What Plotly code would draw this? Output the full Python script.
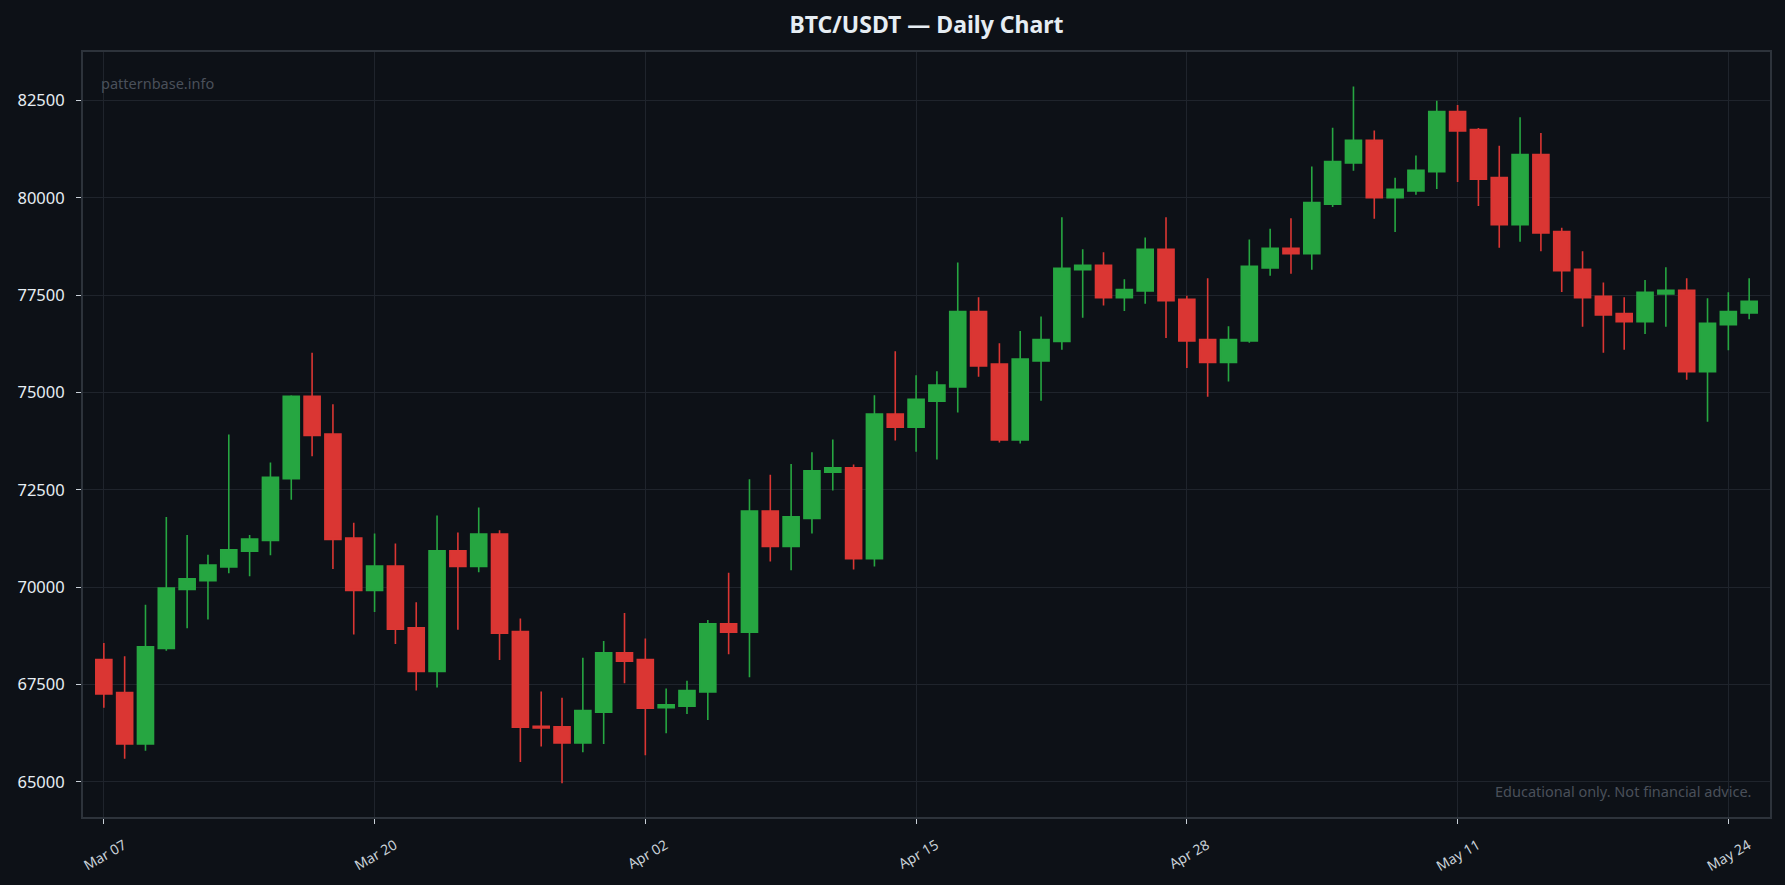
import pandas as pd
import plotly.graph_objects as go

dates = pd.date_range("2025-03-07", periods=80, freq="D")

opens = [68143, 67299, 65977, 68432, 69944, 70170, 70523, 70926, 71203, 72790,
         74906, 73936, 71266, 69919, 70548, 68961, 67841, 70939, 70536, 71367,
         68861, 66430, 66418, 66002, 66795, 68319, 68143, 66909, 66946, 67312,
         69062, 68848, 71959, 71052, 71770, 72954, 73067, 70737, 74452, 74112,
         74780, 75145, 77085, 75737, 73785, 75813, 76316, 78155, 78269, 77437,
         77614, 78684, 77400, 76367, 75775, 76329, 78206, 78709, 78571, 79843,
         80900, 81480, 80006, 80183, 80674, 82223, 81757, 80523, 79314, 81115,
         79138, 78168, 77475, 77034, 76820, 77538, 77626, 75536, 76745, 77047]
highs = [68571, 68231, 69553, 71808, 71342, 70838, 73924, 71342, 73206, 74931,
         76027, 74704, 71657, 71380, 71128, 69616, 71845, 71405, 72047, 71468,
         69201, 67324, 67161, 68193, 68622, 69339, 68684, 67400, 67601, 69163,
         70372, 72778, 72891, 73168, 73470, 73798, 73155, 74931, 76065, 75447,
         75548, 78344, 77450, 76266, 76581, 76959, 79503, 78684, 78609, 77916,
         78986, 79503, 77488, 77941, 76707, 78936, 79213, 79478, 80812, 81807,
         82865, 81732, 80523, 81090, 82500, 82387, 81795, 81341, 82072, 81669,
         79238, 78634, 77828, 77450, 77891, 78218, 77941, 77425, 77576, 77941]
lows = [66909, 65599, 65800, 68370, 68949, 69176, 70359, 70284, 70826, 72248,
        73369, 70473, 68785, 69364, 68546, 67349, 67425, 68911, 70385, 68130,
        65511, 65914, 64969, 65763, 65977, 67538, 65687, 66254, 66745, 66594,
        68282, 67690, 70662, 70435, 71380, 72488, 70460, 70536, 73772, 73483,
        73281, 74490, 75410, 73722, 73697, 74793, 76102, 76921, 77236, 77097,
        77286, 76405, 75636, 74893, 75284, 76279, 78004, 78054, 78155, 79767,
        80699, 79465, 79125, 80082, 80233, 80410, 79792, 78722, 78873, 78634,
        77588, 76694, 76027, 76102, 76505, 76694, 75334, 74251, 76090, 76883]
closes = [67261, 65977, 68470, 69982, 70221, 70574, 70964, 71241, 72828, 74906,
          73898, 71228, 69919, 70548, 68924, 67841, 70939, 70536, 71367, 68823,
          66405, 66390, 66002, 66833, 68319, 68105, 66896, 66985, 67349, 69062,
          68848, 71959, 71052, 71808, 72992, 73067, 70737, 74452, 74112, 74830,
          75195, 77085, 75687, 73785, 75863, 76367, 78193, 78269, 77437, 77651,
          78684, 77362, 76329, 75775, 76367, 78243, 78709, 78571, 79880, 80938,
          81480, 80006, 80221, 80712, 82223, 81719, 80485, 79314, 81115, 79100,
          78130, 77437, 76996, 76820, 77576, 77626, 75536, 76782, 77085, 77349]

x_ticks = ["2025-03-07", "2025-03-20", "2025-04-02", "2025-04-15",
           "2025-04-28", "2025-05-11", "2025-05-24"]
y_ticks = [65000, 67500, 70000, 72500, 75000, 77500, 80000, 82500]

BG = "#0d1117"
GRID = "#1f242c"
BORDER = "#2d333b"
UP = "#26a641"
DOWN = "#da3633"

fig = go.Figure(go.Candlestick(
    x=dates, open=opens, high=highs, low=lows, close=closes,
    increasing=dict(line=dict(color=UP, width=1.6), fillcolor=UP),
    decreasing=dict(line=dict(color=DOWN, width=1.6), fillcolor=DOWN),
    whiskerwidth=0,
    showlegend=False,
))

fig.update_layout(
    width=1785, height=885, autosize=False,
    margin=dict(l=83, r=15, t=52, b=68),
    paper_bgcolor=BG, plot_bgcolor=BG,
    font=dict(family="Noto Sans", color="#c9d1d9"),
    title=dict(text="<b>BTC/USDT — Daily Chart</b>", x=0.5, xref="paper",
               y=0.972, yanchor="middle",
               font=dict(size=23, color="#e6edf3", family="Noto Sans")),
    boxgap=0.23, boxgroupgap=0,
    xaxis=dict(
        rangeslider=dict(visible=False),
        range=["2025-03-06", "2025-05-26"],
        tickvals=x_ticks, tickformat="%b %d", tickangle=-30,
        tickfont=dict(size=14, color="#c9d1d9"),
        ticks="outside", ticklen=5, tickcolor="#c9d1d9",
        ticklabelshift=20, ticklabelstandoff=8,
        showgrid=True, gridcolor=GRID, gridwidth=1,
        showline=True, linecolor=BORDER, linewidth=2, mirror=True,
        zeroline=False, automargin=False,
    ),
    yaxis=dict(
        range=[64100, 83750],
        tickvals=y_ticks, tickformat="d",
        tickfont=dict(size=16.5, color="#e6edf3"),
        ticks="outside", ticklen=5, tickcolor="#c9d1d9",
        ticklabelstandoff=8,
        showgrid=True, gridcolor=GRID, gridwidth=1,
        showline=True, linecolor=BORDER, linewidth=2, mirror=True,
        zeroline=False, automargin=False,
    ),
    annotations=[
        dict(text="patternbase.info", xref="paper", yref="paper",
             x=0.0095, y=0.96, xanchor="left", yanchor="middle", showarrow=False,
             font=dict(size=14.5, color="#4a505a", family="Noto Sans")),
        dict(text="Educational only. Not financial advice.", xref="paper", yref="paper",
             x=0.99, y=0.034, xanchor="right", yanchor="middle", showarrow=False,
             font=dict(size=14.5, color="#4a505a", family="Noto Sans")),
    ],
)

fig.write_html("out.html")
